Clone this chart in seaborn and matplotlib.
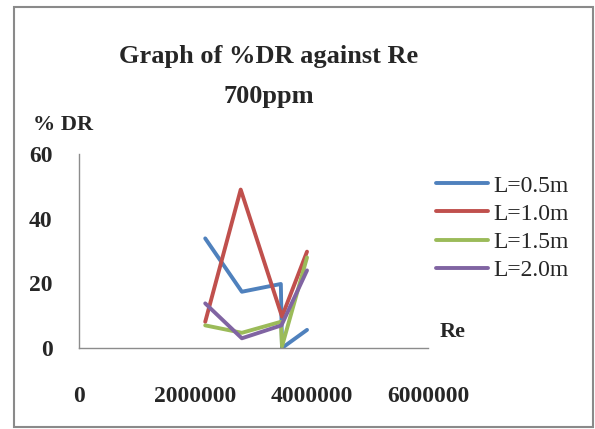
import matplotlib
matplotlib.use("Agg")
from matplotlib import pyplot as plt
from matplotlib.patches import Rectangle
import seaborn as sns
import pandas as pd

# values
series_names = ["L=0.5m", "L=1.0m", "L=1.5m", "L=2.0m"]
re_05 = [2170000, 2800000, 3470000, 3490000, 3920000]
dr_05 = [33.9, 17.4, 19.8, 0.0, 5.6]
re_10 = [2170000, 2780000, 3490000, 3920000]
dr_10 = [8.1, 49.0, 9.7, 29.8]
re_15 = [2170000, 2800000, 3470000, 3490000, 3920000]
dr_15 = [7.0, 4.7, 8.1, 0.5, 28.0]
re_20 = [2170000, 2800000, 3480000, 3920000]
dr_20 = [13.8, 3.0, 7.0, 24.0]
colors = ["#4F81BD", "#C0504D", "#9BBB59", "#8064A2"]

frames = []
for name, xs, ys in zip(series_names,
                        [re_05, re_10, re_15, re_20],
                        [dr_05, dr_10, dr_15, dr_20]):
    frames.append(pd.DataFrame({"Re": xs, "DR": ys, "series": name}))
df = pd.concat(frames, ignore_index=True)

sns.set_style("white")
plt.rcParams["font.family"] = ["Liberation Serif", "DejaVu Serif"]

fig = plt.figure(figsize=(5.95, 4.29), dpi=100)
ax = fig.add_axes([79 / 595, 81 / 429, 349 / 595, 194 / 429])

sns.lineplot(data=df, x="Re", y="DR", hue="series", palette=colors,
             sort=False, estimator=None, linewidth=2.8, ax=ax)

ax.set_xlim(0, 6000000)
ax.set_ylim(0, 60)
ax.set_xticks([0, 2000000, 4000000, 6000000])
ax.set_xticklabels(["0", "2000000", "4000000", "6000000"])
ax.set_yticks([0, 20, 40, 60])
ax.set_xlabel("")
ax.set_ylabel("")
for side in ["top", "right"]:
    ax.spines[side].set_visible(False)
for side in ["left", "bottom"]:
    ax.spines[side].set_color("#8c8c8c")
    ax.spines[side].set_linewidth(1.0)
ax.tick_params(axis="x", direction="out", length=6, width=1, color="#8c8c8c",
               pad=21, labelsize=17)
ax.tick_params(axis="y", direction="out", length=6, width=1, color="#8c8c8c",
               pad=13, labelsize=17)
for lab in ax.get_xticklabels() + ax.get_yticklabels():
    lab.set_fontweight("bold")

ax.legend(loc="upper left", bbox_to_anchor=(436 / 595, 254 / 429),
          bbox_transform=fig.transFigure, frameon=False, fontsize=17,
          handlelength=2.2, handletextpad=0.25, labelspacing=0.28,
          borderpad=0, borderaxespad=0)

fig.text(269 / 595, 1 - 57 / 429, "Graph of %DR against Re", ha="center",
         va="center", fontsize=19, fontweight="bold")
fig.text(269 / 595, 1 - 97 / 429, "700ppm", ha="center", va="center",
         fontsize=19, fontweight="bold")
fig.text(33 / 595, 1 - 125 / 429, "% DR", ha="left", va="center",
         fontsize=16, fontweight="bold")
fig.text(440 / 595, 1 - 332 / 429, "Re", ha="left", va="center",
         fontsize=16, fontweight="bold")

fig.patches.append(Rectangle((14 / 595, 2 / 429), 579 / 595, 420 / 429,
                             transform=fig.transFigure, fill=False,
                             edgecolor="#8a8a8a", linewidth=1.5))

fig.savefig("out.png", dpi=100)
